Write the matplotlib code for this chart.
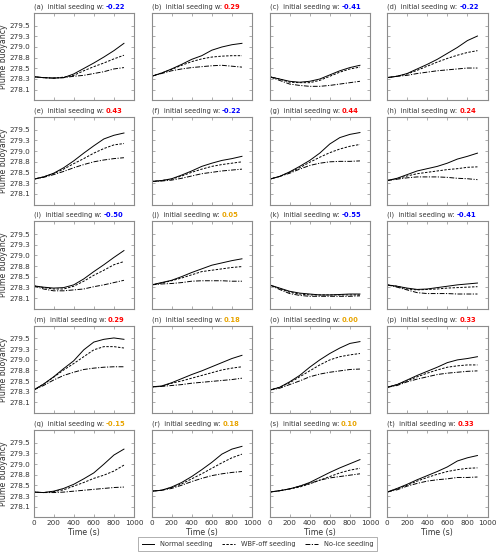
import matplotlib
matplotlib.use('Agg')
import matplotlib.pyplot as plt
from matplotlib.lines import Line2D

# ---------------------------------------------------------------------------
# data (plume buoyancy every 100 s)
# ---------------------------------------------------------------------------
TIME = [0, 100, 200, 300, 400, 500, 600, 700, 800, 900]

PANELS = list('abcdefghijklmnopqrst')
SEED_W = [-0.22, 0.29, -0.41, -0.22,
          0.43, -0.22, 0.44, 0.24,
          -0.50, 0.05, -0.55, -0.41,
          0.29, 0.18, 0.00, 0.33,
          -0.15, 0.18, 0.10, 0.33]

NORMAL = [
    [278.38, 278.36, 278.35, 278.36, 278.44, 278.56, 278.68, 278.81, 278.95, 279.11],
    [278.39, 278.46, 278.55, 278.65, 278.76, 278.84, 278.96, 279.03, 279.08, 279.11],
    [278.38, 278.33, 278.28, 278.26, 278.28, 278.33, 278.42, 278.51, 278.58, 278.63],
    [278.36, 278.39, 278.45, 278.55, 278.65, 278.76, 278.89, 279.02, 279.17, 279.27],
    [278.42, 278.47, 278.55, 278.67, 278.82, 278.99, 279.15, 279.30, 279.38, 279.43],
    [278.37, 278.39, 278.43, 278.51, 278.60, 278.70, 278.77, 278.83, 278.87, 278.92],
    [278.42, 278.48, 278.58, 278.70, 278.83, 278.99, 279.19, 279.33, 279.40, 279.44],
    [278.39, 278.44, 278.52, 278.60, 278.65, 278.70, 278.77, 278.86, 278.92, 278.99],
    [278.37, 278.34, 278.32, 278.33, 278.39, 278.52, 278.68, 278.83, 278.99, 279.14],
    [278.39, 278.44, 278.49, 278.57, 278.66, 278.74, 278.82, 278.87, 278.92, 278.96],
    [278.39, 278.32, 278.25, 278.21, 278.19, 278.17, 278.17, 278.18, 278.19, 278.19],
    [278.39, 278.36, 278.32, 278.29, 278.30, 278.33, 278.36, 278.39, 278.41, 278.43],
    [278.37, 278.50, 278.66, 278.84, 279.01, 279.25, 279.42, 279.48, 279.51, 279.48],
    [278.44, 278.46, 278.53, 278.62, 278.71, 278.79, 278.88, 278.97, 279.06, 279.13],
    [278.37, 278.43, 278.55, 278.69, 278.87, 279.03, 279.17, 279.29, 279.39, 279.43],
    [278.43, 278.49, 278.59, 278.69, 278.78, 278.87, 278.97, 279.03, 279.06, 279.10],
    [278.42, 278.41, 278.44, 278.50, 278.59, 278.71, 278.84, 279.03, 279.23, 279.36],
    [278.44, 278.46, 278.53, 278.63, 278.76, 278.91, 279.07, 279.25, 279.36, 279.42],
    [278.42, 278.45, 278.49, 278.55, 278.63, 278.74, 278.85, 278.95, 279.04, 279.13],
    [278.42, 278.50, 278.59, 278.69, 278.78, 278.87, 278.97, 279.10, 279.17, 279.22],
]

WBF_OFF = [
    [278.38, 278.36, 278.35, 278.37, 278.41, 278.51, 278.60, 278.68, 278.77, 278.85],
    [278.39, 278.46, 278.54, 278.63, 278.71, 278.77, 278.81, 278.83, 278.84, 278.84],
    [278.38, 278.33, 278.26, 278.25, 278.25, 278.30, 278.39, 278.48, 278.55, 278.59],
    [278.36, 278.39, 278.44, 278.52, 278.61, 278.70, 278.78, 278.85, 278.91, 278.95],
    [278.42, 278.47, 278.54, 278.64, 278.76, 278.87, 278.99, 279.09, 279.17, 279.20],
    [278.37, 278.39, 278.42, 278.49, 278.57, 278.64, 278.70, 278.74, 278.77, 278.80],
    [278.42, 278.48, 278.57, 278.67, 278.79, 278.90, 279.00, 279.08, 279.14, 279.18],
    [278.39, 278.43, 278.49, 278.54, 278.57, 278.60, 278.63, 278.65, 278.68, 278.69],
    [278.37, 278.33, 278.30, 278.30, 278.36, 278.47, 278.60, 278.71, 278.83, 278.90],
    [278.39, 278.43, 278.48, 278.54, 278.61, 278.68, 278.71, 278.74, 278.77, 278.79],
    [278.39, 278.31, 278.23, 278.19, 278.17, 278.17, 278.17, 278.17, 278.17, 278.17],
    [278.39, 278.36, 278.30, 278.28, 278.29, 278.30, 278.32, 278.33, 278.34, 278.35],
    [278.37, 278.50, 278.65, 278.81, 278.95, 279.10, 279.25, 279.32, 279.32, 279.29],
    [278.44, 278.45, 278.52, 278.57, 278.63, 278.69, 278.75, 278.81, 278.85, 278.88],
    [278.37, 278.43, 278.53, 278.66, 278.79, 278.92, 279.03, 279.10, 279.14, 279.17],
    [278.43, 278.49, 278.57, 278.66, 278.74, 278.81, 278.87, 278.90, 278.92, 278.92],
    [278.42, 278.41, 278.43, 278.47, 278.55, 278.63, 278.72, 278.79, 278.88, 279.01],
    [278.44, 278.46, 278.52, 278.60, 278.71, 278.82, 278.94, 279.06, 279.17, 279.25],
    [278.42, 278.45, 278.49, 278.53, 278.60, 278.68, 278.76, 278.84, 278.90, 278.94],
    [278.42, 278.49, 278.57, 278.66, 278.74, 278.81, 278.87, 278.91, 278.94, 278.95],
]

NO_ICE = [
    [278.38, 278.36, 278.35, 278.36, 278.39, 278.41, 278.45, 278.49, 278.55, 278.58],
    [278.39, 278.45, 278.51, 278.55, 278.58, 278.60, 278.62, 278.63, 278.61, 278.59],
    [278.38, 278.30, 278.22, 278.19, 278.17, 278.17, 278.19, 278.22, 278.25, 278.28],
    [278.36, 278.39, 278.41, 278.45, 278.48, 278.51, 278.53, 278.55, 278.57, 278.57],
    [278.42, 278.46, 278.52, 278.59, 278.67, 278.74, 278.80, 278.84, 278.87, 278.89],
    [278.37, 278.38, 278.40, 278.44, 278.49, 278.54, 278.57, 278.60, 278.62, 278.64],
    [278.42, 278.48, 278.55, 278.64, 278.72, 278.77, 278.80, 278.81, 278.81, 278.82],
    [278.39, 278.42, 278.45, 278.47, 278.47, 278.47, 278.46, 278.44, 278.43, 278.41],
    [278.37, 278.30, 278.26, 278.26, 278.28, 278.30, 278.35, 278.39, 278.44, 278.49],
    [278.39, 278.41, 278.42, 278.44, 278.47, 278.48, 278.48, 278.48, 278.47, 278.47],
    [278.39, 278.29, 278.20, 278.16, 278.14, 278.14, 278.14, 278.14, 278.14, 278.15],
    [278.39, 278.34, 278.28, 278.22, 278.20, 278.20, 278.20, 278.19, 278.19, 278.19],
    [278.37, 278.47, 278.59, 278.69, 278.76, 278.82, 278.85, 278.87, 278.88, 278.88],
    [278.44, 278.45, 278.47, 278.49, 278.52, 278.54, 278.56, 278.58, 278.60, 278.63],
    [278.37, 278.41, 278.49, 278.57, 278.66, 278.72, 278.76, 278.79, 278.82, 278.83],
    [278.43, 278.47, 278.55, 278.61, 278.66, 278.71, 278.74, 278.76, 278.78, 278.79],
    [278.42, 278.41, 278.41, 278.42, 278.44, 278.46, 278.48, 278.50, 278.52, 278.53],
    [278.44, 278.46, 278.50, 278.57, 278.65, 278.72, 278.78, 278.82, 278.85, 278.87],
    [278.42, 278.45, 278.49, 278.55, 278.61, 278.68, 278.73, 278.76, 278.79, 278.82],
    [278.42, 278.47, 278.55, 278.61, 278.66, 278.69, 278.71, 278.74, 278.74, 278.75],
]

Y_TICK_LABELS = ['278.1', '278.3', '278.5', '278.8', '279.0', '279.3', '279.5']
X_TICKS = [0, 200, 400, 600, 800, 1000]
SERIES_NAMES = ['Normal seeding', 'WBF-off seeding', 'No-ice seeding']

# ---------------------------------------------------------------------------
# styling
# ---------------------------------------------------------------------------
W_PX, H_PX = 500, 556
TEXT_C = '#333333'
FRAME_C = '#8c8c8c'
STYLES = ['-', (0, (2.5, 1.5)), (0, (5, 1.5, 1.2, 1.5))]
LW = 0.7


def w_colour(w):
    if w <= -0.2:
        return '#0000ff'
    if w >= 0.2:
        return '#ff0000'
    return '#e8a400'


def main():
    fig = plt.figure(figsize=(W_PX / 100, H_PX / 100), dpi=100)

    col_left = [33.5, 151.5, 269.5, 387.0]
    ax_w, ax_h = 100.5, 87.5
    row_top0, row_pitch = 12.7, 104.3

    n_ticks = len(Y_TICK_LABELS)
    lo, hi = 278.1, 279.5
    step = (hi - lo) / (n_ticks - 1)
    y_ticks = [lo + k * step for k in range(n_ticks)]

    for i, letter in enumerate(PANELS):
        r, c = divmod(i, 4)
        top = row_top0 + r * row_pitch
        ax = fig.add_axes([col_left[c] / W_PX, 1 - (top + ax_h) / H_PX,
                           ax_w / W_PX, ax_h / H_PX])

        for data, ls in zip((NORMAL, WBF_OFF, NO_ICE), STYLES):
            ax.plot(TIME, data[i], color='black', lw=LW, linestyle=ls)

        ax.set_xlim(0, 1000)
        ax.set_ylim(lo - step, hi + 1.2 * step)
        ax.set_xticks(X_TICKS)
        ax.set_yticks(y_ticks)
        ax.tick_params(direction='in', top=True, right=True, length=2.5,
                       width=0.5, colors=FRAME_C, labelcolor=TEXT_C,
                       labelsize=5.2, pad=2)
        for sp in ax.spines.values():
            sp.set_color(FRAME_C)
            sp.set_linewidth(0.8)

        if c == 0:
            ax.set_yticklabels(Y_TICK_LABELS)
            ax.set_ylabel('Plume buoyancy', fontsize=5.6, color=TEXT_C)
            ax.yaxis.set_label_coords(-0.255, 0.5)
        else:
            ax.set_yticklabels([])
        if r == 4:
            ax.set_xticklabels([str(t) for t in X_TICKS])
            ax.set_xlabel('Time (s)', fontsize=5.6, color=TEXT_C, labelpad=1)
        else:
            ax.set_xticklabels([])

        w = SEED_W[i]
        prefix = ax.text(0.0, 1.035, f'({letter})  initial seeding w: ',
                         transform=ax.transAxes, fontsize=4.8, color=TEXT_C,
                         ha='left', va='bottom')
        ax.annotate(f'{w:.2f}', xy=(1, 0), xycoords=prefix, fontsize=4.9,
                    fontweight='bold', color=w_colour(w),
                    ha='left', va='bottom')

    handles = [Line2D([], [], color='black', lw=LW, linestyle=ls)
               for ls in STYLES]
    leg = fig.legend(handles, SERIES_NAMES, loc='center', ncol=3,
                     bbox_to_anchor=(257.5 / W_PX, 1 - 544 / H_PX),
                     fontsize=4.8, frameon=True, fancybox=False,
                     handlelength=1.9, columnspacing=1.4, handletextpad=0.9,
                     borderpad=0.55)
    leg.get_frame().set_edgecolor(FRAME_C)
    leg.get_frame().set_linewidth(0.6)
    for t in leg.get_texts():
        t.set_color(TEXT_C)

    fig.savefig('out.png', dpi=100)
    plt.close(fig)


if __name__ == '__main__':
    main()
